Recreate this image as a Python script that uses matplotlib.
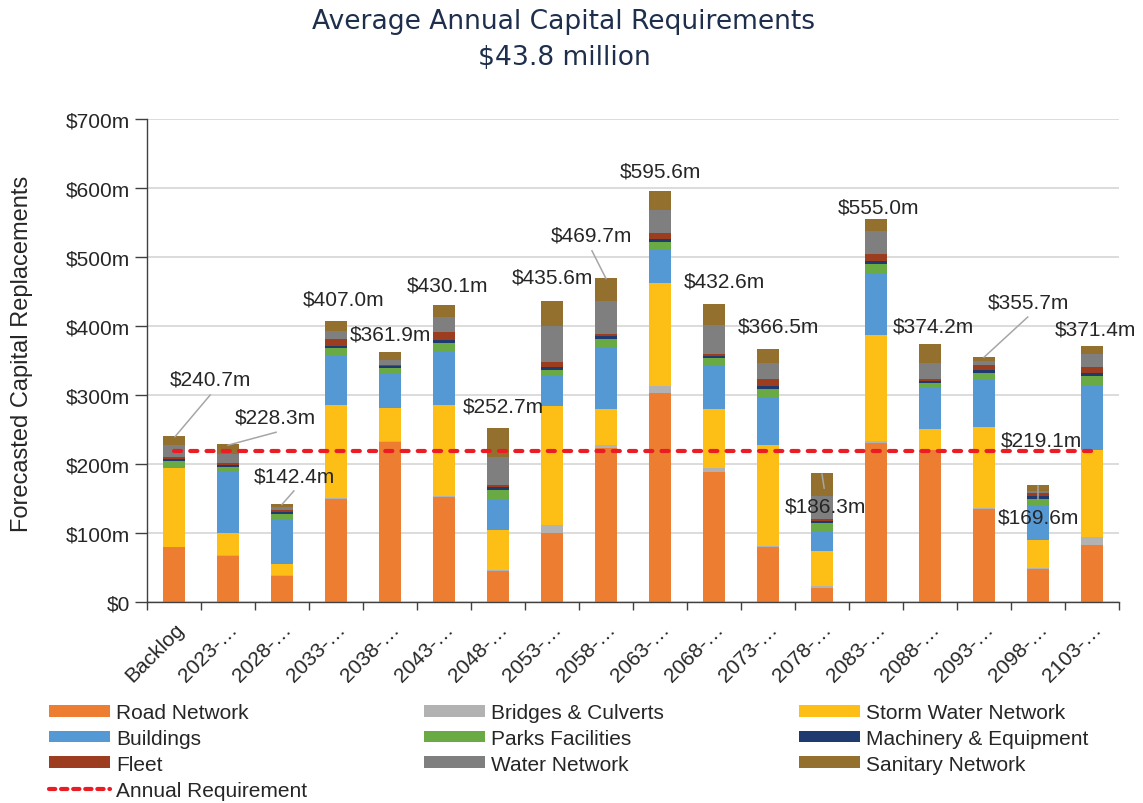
import numpy as np
import matplotlib
matplotlib.use("Agg")
import matplotlib.pyplot as plt
from matplotlib.patches import Patch
from matplotlib.lines import Line2D
from matplotlib.transforms import ScaledTranslation

plt.rcParams['font.family'] = ['Liberation Sans', 'DejaVu Sans']

periods = ['Backlog', '2023-…', '2028-…', '2033-…', '2038-…', '2043-…', '2048-…', '2053-…', '2058-…',
           '2063-…', '2068-…', '2073-…', '2078-…', '2083-…', '2088-…', '2093-…', '2098-…', '2103-…']

road      = [79, 67, 38, 149, 232, 152, 45, 100, 223.5, 303, 188, 79, 21, 231, 220, 135, 47.5, 82.5]
bridges   = [1, 1, 1.5, 1.5, 1.5, 1, 2, 12, 4, 10, 5.5, 2, 1.5, 2.5, 1, 1, 1.5, 12]
storm     = [114, 31.5, 15, 135, 47, 133, 58, 171.5, 52.5, 149, 86.5, 147, 51, 154, 29.5, 117.5, 41, 126]
buildings = [2, 88.5, 65.5, 71.5, 50, 76, 45, 45, 90, 49.5, 62, 67, 28.5, 88, 59, 68, 49, 94.5]
parks     = [8, 8, 8, 10.5, 9, 13, 12, 8, 11, 10.5, 11, 13.5, 12.5, 14, 8, 10.5, 11, 12]
machinery = [3, 2, 3, 4, 2, 5, 4, 4, 4, 4.5, 4, 4, 3, 5, 3, 4, 3, 5]
fleet     = [3, 4, 2, 9.5, 2, 11, 4, 7.5, 4, 8, 3, 10, 2.5, 9.5, 2, 8, 5, 8]
water     = [18, 12.5, 5, 12, 7.5, 21.5, 40, 51.5, 47.7, 33, 41.5, 24.5, 34, 33, 23.5, 5.5, 3.5, 19]
sanitary  = [12.7, 13.8, 4.4, 14, 10.9, 17.6, 42.7, 36.1, 33, 28.1, 31.1, 19.5, 32.3, 18, 28.2, 6.2, 8.1, 12.4]

totals = [240.7, 228.3, 142.4, 407.0, 361.9, 430.1, 252.7, 435.6, 469.7,
          595.6, 432.6, 366.5, 186.3, 555.0, 374.2, 355.7, 169.6, 371.4]
annual_req = 219.1

series = [('Road Network', road, '#ED7D31'),
          ('Bridges & Culverts', bridges, '#B2B2B2'),
          ('Storm Water Network', storm, '#FDBF16'),
          ('Buildings', buildings, '#5599D4'),
          ('Parks Facilities', parks, '#6AAA44'),
          ('Machinery & Equipment', machinery, '#1F3A6E'),
          ('Fleet', fleet, '#9C3D1F'),
          ('Water Network', water, '#7F7F7F'),
          ('Sanitary Network', sanitary, '#94702E')]

# label placement (x in category units, y in $m) and leader lines
label_pos = [(0.67, 323), (1.88, 268), (2.23, 183), (3.14, 439), (4.0, 388), (5.07, 459),
             (6.09, 284), (7.0, 471), (7.74, 532), (9.0, 625), (10.19, 465), (11.19, 400),
             (12.06, 139), (13.04, 572), (14.07, 400), (15.83, 435), (16.0, 123), (17.06, 396)]
leaders = {0: (0.67, 300), 1: (1.89, 246), 2: (2.22, 161), 8: (7.74, 509),
           12: (12.04, 165), 15: (15.81, 413), 16: (16.0, 149)}

fig = plt.figure(figsize=(11.43, 8.04), dpi=100)
ax = fig.add_axes([147/1143, 1-603/804, (1119-147)/1143, (603-120)/804])

x = np.arange(len(periods))
bottom = np.zeros(len(periods))
handles = {}
for name, vals, col in series:
    ax.bar(x, vals, 0.41, bottom=bottom, color=col, zorder=2)
    bottom += np.array(vals)
    handles[name] = Patch(facecolor=col)

ax.plot([0, 17], [annual_req, annual_req], color='#EC1C24', lw=3, dashes=(1.7, 2.2),
        dash_capstyle='round', zorder=4)
handles['Annual Requirement'] = Line2D([], [], color='#EC1C24', lw=3, dashes=(1.5, 1.4),
                                       dash_capstyle='round')

txtc = '#262626'
for i, (lx, ly) in enumerate(label_pos):
    if i in leaders:
        ex, ey = leaders[i]
        ax.plot([i + (0.02 if i == 0 else 0), ex], [totals[i] - 1, ey], color='#A6A6A6', lw=1.1,
                zorder=3, clip_on=False)
    ax.text(lx, ly, '$%.1fm' % totals[i], ha='center', va='center', fontsize=15,
            color=txtc, zorder=5, clip_on=False)
ax.text(16.07, 235, '$%.1fm' % annual_req, ha='center', va='center', fontsize=15, color=txtc, zorder=5)

ax.set_xlim(-0.5, 17.5)
ax.set_ylim(0, 700)
ax.set_yticks(range(0, 701, 100))
ax.set_yticklabels(['$0'] + ['$%dm' % v for v in range(100, 701, 100)])
ax.set_xticks(x)
ax.set_xticklabels(periods, rotation=45, ha='right', rotation_mode='anchor')
for lbl in ax.get_xticklabels():
    lbl.set_transform(lbl.get_transform() + ScaledTranslation(-0.07, -0.03, fig.dpi_scale_trans))
ax.set_xticks(np.arange(-0.5, 18, 1), minor=True)
ax.tick_params(axis='x', which='major', length=0, pad=12, labelsize=15, labelcolor=txtc)
ax.tick_params(axis='x', which='minor', length=6, width=1, color='#404040')
ax.tick_params(axis='y', length=9, width=1, color='#404040', labelsize=15, labelcolor=txtc, pad=3)
ax.yaxis.grid(True, color='#D9D9D9', lw=1.3, zorder=0)
ax.set_axisbelow(True)
for s in ['top', 'right']:
    ax.spines[s].set_visible(False)
for s in ['left', 'bottom']:
    ax.spines[s].set_color('#404040')
    ax.spines[s].set_linewidth(1)

fig.text(22/1143, 1-354/804, 'Forecasted Capital Replacements', rotation=90, ha='center', va='center',
         fontsize=17, color=txtc)

fig.text(564/1143, 1-22/804, 'Average Annual Capital Requirements', ha='center', va='center',
         fontsize=19.1, color='#1E2F4D', family='DejaVu Sans')
fig.text(564/1143, 1-58/804, '$43.8 million', ha='center', va='center',
         fontsize=19.1, color='#1E2F4D', family='DejaVu Sans')

legend_cols = [['Road Network', 'Buildings', 'Fleet', 'Annual Requirement'],
               ['Bridges & Culverts', 'Parks Facilities', 'Water Network'],
               ['Storm Water Network', 'Machinery & Equipment', 'Sanitary Network']]
for names, lx in zip(legend_cols, [49/1143, 424/1143, 799/1143]):
    fig.legend([handles[n] for n in names], names, loc='upper left', bbox_to_anchor=(lx, 1-704/804),
               frameon=False, fontsize=15, handlelength=2.93, handleheight=0.5, handletextpad=0.3,
               labelspacing=0.33, borderpad=0, borderaxespad=0, labelcolor=txtc)

fig.savefig('out.png', dpi=100)
